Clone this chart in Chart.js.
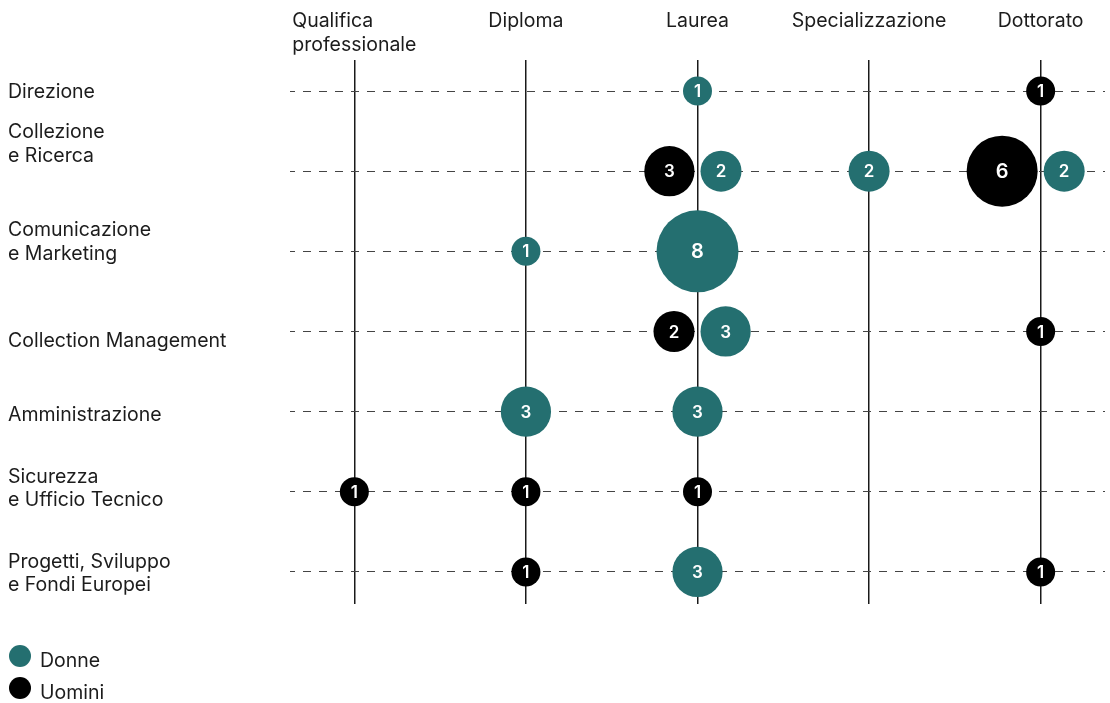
<!DOCTYPE html>
<html lang="it">
<head>
<meta charset="utf-8">
<title>Titolo di studio per area</title>
<script src="https://cdn.jsdelivr.net/npm/chart.js@4"></script>
<style>
  html, body { margin: 0; padding: 0; background: #fff; }
  #wrap { position: relative; width: 1110px; height: 703px; }
</style>
</head>
<body>
<div id="wrap"><canvas id="studioChart"></canvas></div>
<script>
// titoli di studio (colonne) e aree (righe)
const titoli = [['Qualifica', 'professionale'], ['Diploma'], ['Laurea'], ['Specializzazione'], ['Dottorato']];
const aree = [
  ['Direzione'],
  ['Collezione', 'e Ricerca'],
  ['Comunicazione', 'e Marketing'],
  ['Collection Management'],
  ['Amministrazione'],
  ['Sicurezza', 'e Ufficio Tecnico'],
  ['Progetti, Sviluppo', 'e Fondi Europei']
];

// persone per area (riga) e titolo di studio (colonna)
const donne = [
  [0, 0, 1, 0, 0],
  [0, 0, 2, 2, 2],
  [0, 1, 8, 0, 0],
  [0, 0, 3, 0, 0],
  [0, 3, 3, 0, 0],
  [0, 0, 0, 0, 0],
  [0, 0, 3, 0, 0]
];
const uomini = [
  [0, 0, 0, 0, 1],
  [0, 0, 3, 0, 6],
  [0, 0, 0, 0, 0],
  [0, 0, 2, 0, 1],
  [0, 0, 0, 0, 0],
  [1, 1, 1, 0, 0],
  [0, 1, 0, 0, 1]
];

// spostamento in px della prima riga di testo delle aree rispetto alla riga della griglia
const spostaArea = [7, -33, -15, 16, 9, -9, -4];

const FONT = 'Inter, "Noto Sans", sans-serif';
const TESTO = '#1c1c1c';
const VERDE = '#246f70';
const NERO = '#000000';

// un punto per ogni cella non vuota; se nella stessa cella ci sono donne e uomini
// le bolle vengono affiancate (donne a destra, uomini a sinistra)
function punti(serie, altra, lato) {
  const out = [];
  serie.forEach((riga, y) => riga.forEach((v, x) => {
    if (!v) return;
    out.push({ x: x, y: y, r: 14.5 * Math.sqrt(v), v: v, lato: altra[y][x] ? lato : 0 });
  }));
  return out;
}

const etichette = {
  id: 'etichette',
  afterDatasetsUpdate(chart) {
    chart.data.datasets.forEach((ds, i) => {
      chart.getDatasetMeta(i).data.forEach((el, j) => {
        const p = ds.data[j];
        el.x += p.lato * (p.r + 3);
      });
    });
  },
  afterDatasetsDraw(chart) {
    const ctx = chart.ctx;
    ctx.save();
    ctx.fillStyle = '#fff';
    ctx.textAlign = 'center';
    ctx.textBaseline = 'middle';
    chart.data.datasets.forEach((ds, i) => {
      chart.getDatasetMeta(i).data.forEach((el, j) => {
        const p = ds.data[j];
        ctx.font = '600 ' + (p.r > 30 ? 20 : 17) + 'px ' + FONT;
        ctx.fillText(String(p.v), el.x, el.y + 1);
      });
    });
    ctx.restore();
  },
  afterDraw(chart) {
    const ctx = chart.ctx;
    const xs = chart.scales.x, ys = chart.scales.y;
    ctx.save();
    ctx.fillStyle = TESTO;
    ctx.font = '400 19.5px ' + FONT;
    ctx.textBaseline = 'alphabetic';
    ctx.textAlign = 'left';

    // titoli in alto: blocco centrato sulla colonna, righe allineate a sinistra
    titoli.forEach((righe, i) => {
      const cx = xs.getPixelForValue(i);
      const w = Math.max(...righe.map(t => ctx.measureText(t).width));
      righe.forEach((t, k) => ctx.fillText(t, cx - w / 2, 27 + k * 23.5));
    });

    // aree a sinistra
    aree.forEach((righe, i) => {
      const cy = ys.getPixelForValue(i) + spostaArea[i];
      righe.forEach((t, k) => ctx.fillText(t, 8, cy + k * 23.5));
    });

    // legenda
    chart.data.datasets.forEach((ds, i) => {
      const y = 656 + i * 32;
      ctx.fillStyle = ds.backgroundColor;
      ctx.beginPath();
      ctx.arc(20, y, 11, 0, Math.PI * 2);
      ctx.fill();
      ctx.fillStyle = TESTO;
      ctx.fillText(ds.label, 40, y + 11);
    });
    ctx.restore();
  }
};

new Chart(document.getElementById('studioChart'), {
  type: 'bubble',
  data: {
    datasets: [
      { label: 'Donne', data: punti(donne, uomini, 1), backgroundColor: VERDE, borderWidth: 0 },
      { label: 'Uomini', data: punti(uomini, donne, -1), backgroundColor: NERO, borderWidth: 0 }
    ]
  },
  options: {
    responsive: true,
    maintainAspectRatio: false,
    animation: false,
    events: [],
    layout: { autoPadding: false, padding: { left: 290, right: 5, top: 60, bottom: 99 } },
    elements: { point: { hoverRadius: 0 } },
    plugins: {
      legend: { display: false },
      tooltip: { enabled: false }
    },
    scales: {
      x: {
        type: 'linear',
        position: 'top',
        min: -0.375,
        max: 4.375,
        afterBuildTicks: s => { s.ticks = titoli.map((_, i) => ({ value: i })); },
        ticks: { display: false },
        grid: { color: '#1a1a1a', lineWidth: 1.5, drawTicks: false },
        border: { display: false }
      },
      y: {
        type: 'linear',
        reverse: true,
        min: -0.387,
        max: 6.4,
        afterBuildTicks: s => { s.ticks = aree.map((_, i) => ({ value: i })); },
        ticks: { display: false },
        grid: { color: '#444444', lineWidth: 1, drawTicks: false },
        border: { display: false, dash: [8, 8], dashOffset: 3 }
      }
    }
  },
  plugins: [etichette]
});
</script>
</body>
</html>
